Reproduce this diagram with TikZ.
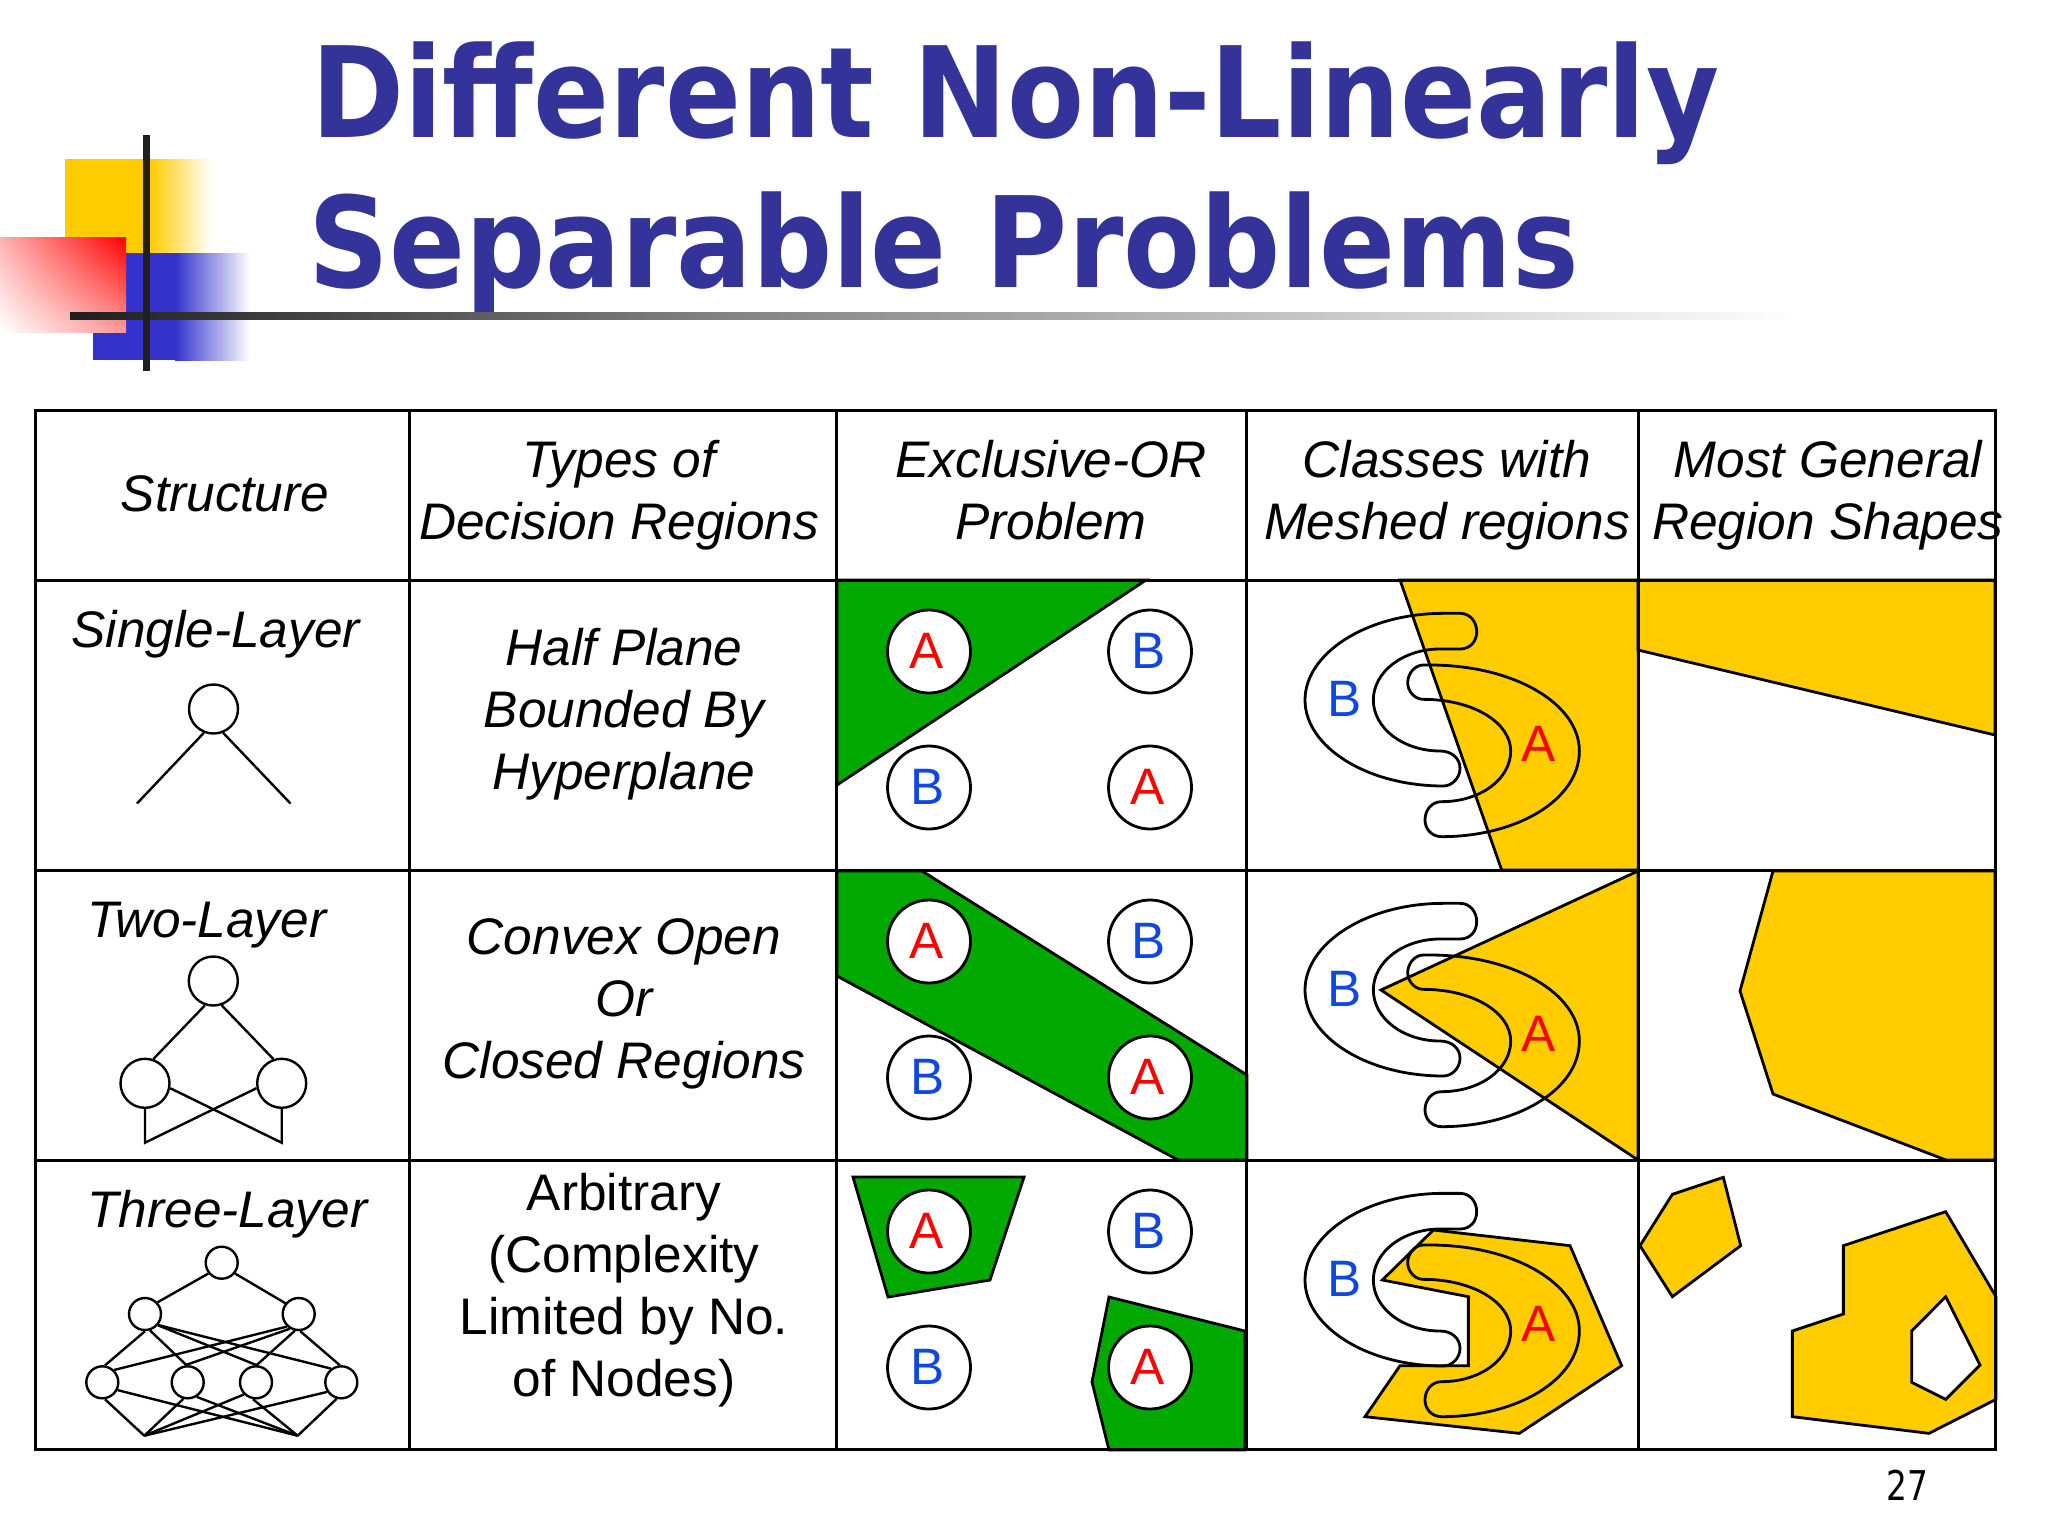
\documentclass[tikz,border=0pt]{standalone}
\usepackage{fontspec}
\usetikzlibrary{shadings}
\setmainfont{Liberation Sans}
\newfontfamily\titlefont[FakeStretch=0.89]{DejaVu Sans}
\newfontfamily\pagefont[FakeStretch=0.8]{DejaVu Sans}
\definecolor{titleblue}{HTML}{333399}
\definecolor{sqyellow}{HTML}{FFCC00}
\definecolor{sqblue}{HTML}{3333CC}
\definecolor{regiongreen}{HTML}{00A800}
\definecolor{regionyellow}{HTML}{FFCC00}
\definecolor{letterblue}{HTML}{0F47E0}
\newcommand{\letterA}{\raisebox{1pt}{\hspace*{-2.5pt}A}}
\newcommand{\letterB}{\raisebox{1pt}{\hspace*{-1pt}B}}
\tikzset{
  gridline/.style={line width=1.5pt,black},
  titletext/.style={anchor=base west,inner sep=0pt,text=titleblue,font=\titlefont\bfseries\fontsize{63}{70}\selectfont},
  celltext/.style={align=center,inner sep=0pt,font=\fontsize{25.7}{31}\selectfont},
  cellitalic/.style={celltext,font=\itshape\fontsize{25.7}{31}\selectfont},
  xorcircle/.style={circle,draw,line width=1.4pt,fill=white,minimum size=41.5pt,inner sep=0pt,font=\fontsize{25.6}{30}\selectfont},
  colA/.style={text=red},
  colB/.style={text=letterblue},
  freeletter/.style={inner sep=0pt,anchor=base,font=\fontsize{25.6}{30}\selectfont},
  green region/.style={fill=regiongreen,draw=black,line width=1.4pt,line join=miter},
  yellow region/.style={fill=regionyellow,draw=black,line width=1.4pt,line join=miter},
  mesh/.style={draw=black,line width=1.4pt},
  bignet/.style={circle,draw,line width=1.2pt,minimum size=24.5pt,inner sep=0pt},
  smallnet/.style={circle,draw,line width=1.2pt,minimum size=16pt,inner sep=0pt},
  netline/.style={line width=1.2pt,black},
}
\newcommand{\meshcell}[3]{% #1 row shift, #2 #3 node prefix
  \begin{scope}[shift={(1240,570+#1)},scale=0.33333]
    \draw[mesh] (610,130) -- (660,130) .. controls (690,130) and (710,155) .. (710,185) .. controls (710,215) and (690,237) .. (660,237) -- (600,237) .. controls (490,237) and (400,305) .. (400,390) .. controls (400,475) and (490,543) .. (600,543) .. controls (635,543) and (660,565) .. (660,595) .. controls (660,625) and (635,648) .. (610,648) .. controls (380,648) and (195,530) .. (195,390) .. controls (195,250) and (380,130) .. (610,130) -- cycle;
    \draw[mesh] (570,285) .. controls (820,285) and (1018,400) .. (1018,543) .. controls (1018,690) and (830,800) .. (605,800) .. controls (575,800) and (555,777) .. (555,750) .. controls (555,720) and (575,695) .. (605,695) .. controls (720,695) and (812,628) .. (812,543) .. controls (812,458) and (700,388) .. (550,388) .. controls (525,388) and (503,365) .. (503,338) .. controls (503,310) and (525,285) .. (550,285) -- cycle;
    \node[freeletter,colB] (#2) at (313,440) {B};
    \node[freeletter,colA] (#3) at (895,575) {A};
  \end{scope}
}
\newcommand{\xorcell}[2]{% #1 row shift, #2 prefix
  \node[xorcircle,colA] (#2a) at (929,651.5+#1) {\letterA};
  \node[xorcircle,colB] (#2b) at (1150,651.5+#1) {\letterB};
  \node[xorcircle,colB] (#2c) at (929,787.5+#1) {\letterB};
  \node[xorcircle,colA] (#2d) at (1150,787.5+#1) {\letterA};
}
\begin{document}
\begin{tikzpicture}[x=0.5pt,y=-0.5pt]
\useasboundingbox (0,0) rectangle (2048,1536);
\fill[white] (0,0) rectangle (2048,1536);
% decoration
\fill[sqyellow] (65,159) rectangle (150,253);
\shade[left color=sqyellow,right color=white] (150,159) rectangle (212,253);
\fill[sqblue] (93,253) rectangle (175,360);
\shade[left color=sqblue,right color=white] (175,253) rectangle (250,360);
\shade[shading=bilinear interpolation,upper right=red,lower left=white,upper left=white!70!red,lower right=white!60!red] (0,237) rectangle (126,332);
% title
\node[titletext] (t1) at (311,137) {Different Non-Linearly};
\node[titletext] (t2) at (308,287) {Separable Problems};
\shade[left color=black!88,right color=black!50] (70,312) rectangle (700,319);
\shade[left color=black!50,right color=white] (700,312) rectangle (1800,319);
\fill[black!88] (143,135) rectangle (150,371);
% regions: XOR
\draw[green region] (837,580) -- (1146,580) -- (837,785) -- cycle;
\draw[green region] (837,871) -- (922,871) -- (1247,1075) -- (1247,1160) -- (1178,1160) -- (837,976) -- cycle;
\draw[green region] (853,1177) -- (1024,1177) -- (990,1280) -- (888,1297) -- cycle;
\draw[green region] (1109,1297) -- (1245,1331) -- (1245,1450) -- (1109,1450) -- (1092,1382) -- cycle;
% regions: meshed
\begin{scope}[shift={(1240,570)},scale=0.33333]
  \draw[yellow region] (480,30) -- (1195,30) -- (1195,900) -- (785,900) -- cycle;
\end{scope}
\draw[yellow region] (1638,871) -- (1638,1160) -- (1381,990) -- cycle;
\begin{scope}[shift={(1240,1160)},scale=0.33333]
  \draw[yellow region] (580,210) -- (990,257) -- (1145,617) -- (838,820) -- (375,770) -- (480,617) -- (685,617) -- (685,410) -- (427,360) -- cycle;
\end{scope}
% regions: general
\draw[yellow region] (1638,580) -- (1995,580) -- (1995,735) -- (1638,650) -- cycle;
\draw[yellow region] (1773,871) -- (1995,871) -- (1995,1160) -- (1946,1160) -- (1773,1094) -- (1740,991) -- cycle;
\begin{scope}[shift={(1640,1160)},scale=0.33333]
  \draw[yellow region] (0,257) -- (97,103) -- (250,52) -- (302,257) -- (97,410) -- cycle;
  \draw[yellow region] (457,513) -- (610,462) -- (610,257) -- (917,155) -- (1068,410) -- (1068,718) -- (867,820) -- (457,770) -- cycle;
  \draw[draw=black,fill=white,line width=1.4pt] (815,513) -- (917,410) -- (1020,615) -- (917,718) -- (815,667) -- cycle;
\end{scope}
% table grid
\draw[gridline] (35,410) rectangle (1995,1449);
\foreach \gx in {409,836,1246,1638} \draw[gridline] (\gx,410) -- (\gx,1449);
\foreach \gy in {580,870.5,1160} \draw[gridline] (35,\gy) -- (1995,\gy);
% xor circles
\xorcell{0}{xa}
\xorcell{290}{xb}
\xorcell{580}{xc}
% meshed shapes
\meshcell{0}{ma}{mb}
\meshcell{290}{mc}{md}
\meshcell{580}{me}{mf}
% headers
\node[cellitalic] (h1) at (225,493.5) {Structure};
\node[cellitalic] (h2) at (619,495) {Types of\\Decision Regions};
\node[cellitalic] (h3) at (1051,490) {Exclusive-OR\\Problem};
\node[cellitalic] (h4) at (1447,495) {Classes with\\Meshed regions};
\node[cellitalic] (h5) at (1828,495) {Most General\\Region Shapes};
% first column
\node[cellitalic,anchor=base west] (s1) at (71,647) {Single-Layer};
\node[cellitalic,anchor=base west] (s2) at (87,937) {Two-Layer};
\node[cellitalic,anchor=base west] (s3) at (87,1227) {Three-Layer};
% second column
\node[cellitalic] (d1) at (624,714) {Half Plane\\Bounded By\\Hyperplane};
\node[cellitalic] (d2) at (624,1004) {Convex Open\\Or\\Closed Regions};
\node[celltext] (d3) at (624,1290) {Arbitrary\\(Complexity\\Limited by No.\\of Nodes)};
% page number
\node[anchor=base,inner sep=0pt,font=\pagefont\fontsize{20.5}{24}\selectfont] (pg) at (1907,1500) {27};
% single-layer net
\node[bignet] (n1) at (213.5,709) {};
\coordinate (n1l) at (137,803.5);
\coordinate (n1r) at (290.5,803.5);
\draw[netline] (n1.-112) -- (n1l);
\draw[netline] (n1.-68) -- (n1r);
% two-layer net
\node[bignet] (n2t) at (213.3,981) {};
\node[bignet] (n2l) at (145,1083.3) {};
\node[bignet] (n2r) at (281.7,1083.3) {};
\coordinate (n2a) at (145,1142.7);
\coordinate (n2b) at (281.7,1142.7);
\draw[netline] (n2t.-109) -- (n2l.71);
\draw[netline] (n2t.-71) -- (n2r.109);
\draw[netline,line join=miter] (n2l.-90) -- (n2a) -- (n2r.-169);
\draw[netline,line join=miter] (n2r.-90) -- (n2b) -- (n2l.-11);
% three-layer net
\node[smallnet] (t) at (221.7,1262.7) {};
\node[smallnet] (ml) at (145,1314) {};
\node[smallnet] (mr) at (298.7,1314) {};
\node[smallnet] (b1) at (102.3,1382.3) {};
\node[smallnet] (b2) at (187.7,1382.3) {};
\node[smallnet] (b3) at (256,1382.3) {};
\node[smallnet] (b4) at (341.3,1382.3) {};
\coordinate (e1) at (144.3,1435.7);
\coordinate (e2) at (297.7,1435.7);
\draw[netline] (t.-141) -- (ml.43);
\draw[netline] (t.-39) -- (mr.141);
\draw[netline] (ml.-90) -- (b1.81);
\draw[netline] (ml.-73) -- (b2.94);
\draw[netline] (ml.-41) -- (b3.88);
\draw[netline] (ml.-40) -- (b4.127);
\draw[netline] (mr.-85) -- (b4.95);
\draw[netline] (mr.-103) -- (b3.88);
\draw[netline] (mr.-121) -- (b2.100);
\draw[netline] (mr.-133) -- (b1.46);
\draw[netline] (b1.-81) -- (e1);
\draw[netline] (b1.-27) -- (e2);
\draw[netline] (b2.-105) -- (e1);
\draw[netline] (b2.-58) -- (e2);
\draw[netline] (b3.-135) -- (e1);
\draw[netline] (b3.-100) -- (e2);
\draw[netline] (b4.-146) -- (e1);
\draw[netline] (b4.-106) -- (e2);
\end{tikzpicture}
\end{document}
